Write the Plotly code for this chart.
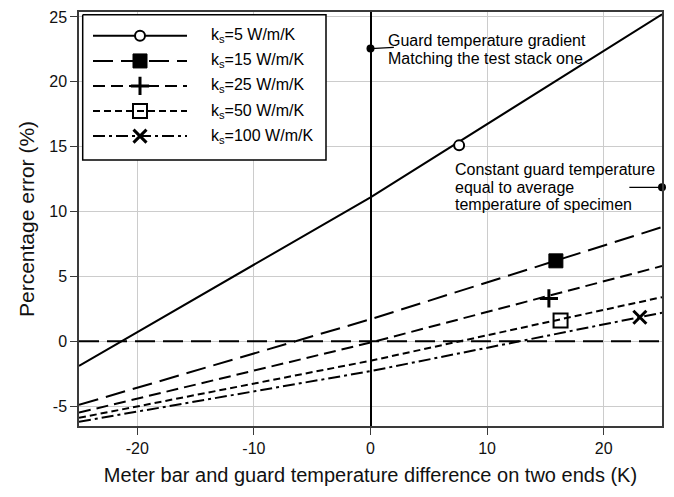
import plotly.graph_objects as go

# ---------------- data ----------------
x_ends = [-25, 0, 25]
err_k5 = [-1.9, 11.1, 25.2]
err_k15 = [-4.9, 1.7, 8.8]
err_k25 = [-5.5, -0.1, 5.8]
err_k50 = [-5.9, -1.5, 3.4]
err_k100 = [-6.2, -2.3, 2.2]

series_labels = ["k<sub>s</sub>=5 W/m/K", "k<sub>s</sub>=15 W/m/K", "k<sub>s</sub>=25 W/m/K",
                 "k<sub>s</sub>=50 W/m/K", "k<sub>s</sub>=100 W/m/K"]
marker_x = [7.6, 15.9, 15.3, 16.3, 23.1]
marker_y = [15.1, 6.2, 3.3, 1.6, 1.85]

x_tick_vals = [-20, -10, 0, 10, 20]
x_tick_text = ["-20", "-10", "0", "10", "20"]
y_tick_vals = [-5, 0, 5, 10, 15, 20, 25]
y_tick_text = ["-5", "0", "5", "10", "15", "20", "25"]
x_range = [-25, 25]
y_range = [-6.53, 25.38]

constant_guard_y = 0          # horizontal dashed reference line
anno_point_x = [0, 25]
anno_point_y = [22.56, 11.87]
anno_lines_1 = ["Guard temperature gradient", "Matching the test stack one"]
anno_lines_2 = ["Constant guard temperature", "equal to average", "temperature of specimen"]

# ---------------- styles ----------------
FONT = "Liberation Sans, Arial, sans-serif"
dashes = ["solid", "20px,8px", "12px,6px", "7px,4px", "12px,4px,3px,4px"]
symbols = ["circle", "square", "cross-thin-open", "square-open", "x-thin-open"]
msizes = [10, 14, 13, 14, 13]
mline = [2, 1, 3, 2, 3]
mfill = ["white", "black", "black", "black", "black"]
series = [err_k5, err_k15, err_k25, err_k50, err_k100]
LINE_STEP = 1.38   # text line spacing in data units (~18 px)

fig = go.Figure()

for i, ys in enumerate(series):
    fig.add_trace(go.Scatter(x=x_ends, y=ys, mode="lines",
                             line=dict(color="black", width=2, dash=dashes[i]),
                             hoverinfo="skip"))
for i in range(5):
    fig.add_trace(go.Scatter(x=[marker_x[i]], y=[marker_y[i]], mode="markers",
                             marker=dict(symbol=symbols[i], size=msizes[i], color=mfill[i],
                                         line=dict(color="black", width=mline[i])),
                             cliponaxis=False, hoverinfo="skip"))

# annotation dots
fig.add_trace(go.Scatter(x=anno_point_x, y=anno_point_y, mode="markers",
                         marker=dict(size=8, color="black"), cliponaxis=False, hoverinfo="skip"))

# leader lines
fig.add_shape(type="line", xref="x", yref="y", x0=anno_point_x[0], x1=anno_point_x[0] + 2.0,
              y0=anno_point_y[0], y1=anno_point_y[0] + 0.1, line=dict(color="black", width=1.2))
fig.add_shape(type="line", xref="x", yref="y", x0=anno_point_x[1] - 2.8, x1=anno_point_x[1],
              y0=anno_point_y[1], y1=anno_point_y[1], line=dict(color="black", width=1.2))

for j, t in enumerate(anno_lines_1):
    fig.add_annotation(x=anno_point_x[0] + 1.35, y=anno_point_y[0] + 0.6 - j * LINE_STEP,
                       xref="x", yref="y", text=t, showarrow=False, xanchor="left",
                       yanchor="middle", font=dict(size=16, color="black", family=FONT))
for j, t in enumerate(anno_lines_2):
    fig.add_annotation(x=7.1, y=anno_point_y[1] + 1.4 - j * LINE_STEP,
                       xref="x", yref="y", text=t, showarrow=False, xanchor="left",
                       yanchor="middle", font=dict(size=16, color="black", family=FONT))

# y = 0 dashed line
fig.add_shape(type="line", xref="paper", yref="y", x0=0, x1=1, y0=constant_guard_y, y1=constant_guard_y,
              line=dict(color="black", width=2, dash="20px,8px"))

# ---------------- manual legend on overlay axes (pixel coordinates inside plot area) ----------------
PW, PH = 583, 417
box = dict(x0=3.7, x1=247, y0=2.7, y1=149)
fig.add_trace(go.Scatter(x=[box["x0"], box["x1"], box["x1"], box["x0"], box["x0"]],
                         y=[box["y0"], box["y0"], box["y1"], box["y1"], box["y0"]],
                         mode="lines", fill="toself", fillcolor="white",
                         line=dict(color="black", width=1.5), xaxis="x2", yaxis="y2", hoverinfo="skip"))
row_y = [24, 49.3, 74.5, 99.8, 125]
for i in range(5):
    fig.add_trace(go.Scatter(x=[14, 108], y=[row_y[i], row_y[i]], mode="lines",
                             line=dict(color="black", width=2, dash=dashes[i]),
                             xaxis="x2", yaxis="y2", hoverinfo="skip"))
    fig.add_trace(go.Scatter(x=[61], y=[row_y[i]], mode="markers",
                             marker=dict(symbol=symbols[i], size=msizes[i], color=mfill[i],
                                         line=dict(color="black", width=mline[i])),
                             xaxis="x2", yaxis="y2", hoverinfo="skip"))
    fig.add_annotation(x=130, y=row_y[i], xref="x2", yref="y2", text=series_labels[i],
                       showarrow=False, xanchor="left", yanchor="middle",
                       font=dict(size=16, color="black", family=FONT))

axis_common = dict(showgrid=True, gridcolor="#cccccc", gridwidth=1, showline=True, mirror=True,
                   linecolor="#3a3a3a", linewidth=1.5, ticks="outside", ticklen=7,
                   tickcolor="#3a3a3a", tickfont=dict(size=16, color="#111", family=FONT))

fig.update_layout(
    width=674, height=497,
    margin=dict(l=79, r=12, t=9, b=71),
    plot_bgcolor="white", paper_bgcolor="white",
    showlegend=False,
    font=dict(family=FONT, size=16, color="#111"),
    xaxis=dict(range=x_range, tickvals=x_tick_vals, ticktext=x_tick_text, zeroline=True,
               zerolinecolor="black", zerolinewidth=1.5,
               title=dict(text="Meter bar and guard temperature difference on two ends (K)",
                          font=dict(size=20, family=FONT, color="#111"), standoff=12),
               **axis_common),
    yaxis=dict(range=y_range, tickvals=y_tick_vals, ticktext=y_tick_text, zeroline=False,
               title=dict(text="Percentage error (%)", font=dict(size=21, family=FONT, color="#111"),
                          standoff=9),
               **axis_common),
    xaxis2=dict(overlaying="x", anchor="y2", range=[0, PW], visible=False),
    yaxis2=dict(overlaying="y", anchor="x2", range=[PH, 0], visible=False),
)

fig.write_html("out.html")
